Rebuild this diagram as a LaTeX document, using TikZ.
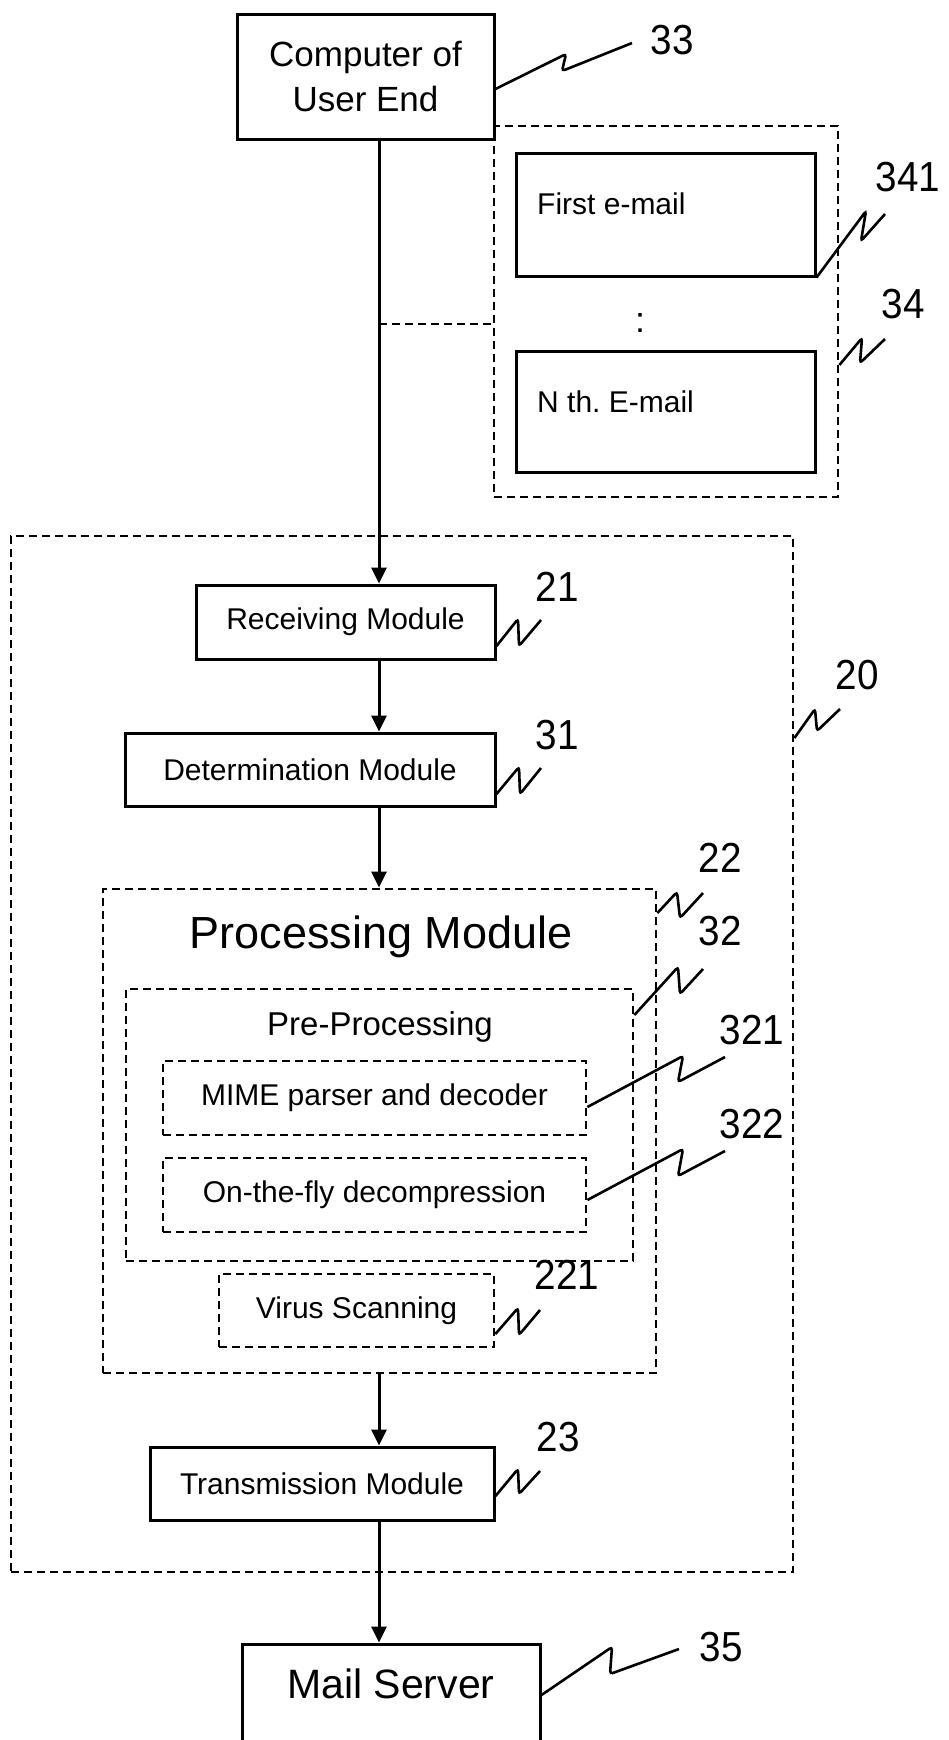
\documentclass[tikz,border=0pt]{standalone}
\usepackage{fontspec}
\setmainfont{Liberation Sans}
\usepackage{graphicx}
\usetikzlibrary{arrows.meta,calc}

% reference numerals are set slightly narrower than the body text
\newcommand{\rn}[1]{\scalebox{0.92}[1]{#1}}

\begin{document}
\begin{tikzpicture}[x=1pt,y=-1pt,
  box/.style={draw=black, line width=3pt, inner sep=0pt, align=center,
              font=\fontsize{30}{36}\selectfont},
  dbox/.style={box, line width=2.8pt, dash pattern=on 8pt off 5pt},
  dline/.style={line width=2.8pt, dash pattern=on 8pt off 5pt},
  flow/.style={line width=3pt, -{Triangle[width=15pt,length=16pt]}},
  leader/.style={line width=2.6pt, rounded corners=3pt},
  refnum/.style={inner sep=0pt, font=\fontsize{42}{42}\selectfont},
  plain/.style={inner sep=0pt, font=\fontsize{30}{36}\selectfont}
]
\useasboundingbox (0,0) rectangle (948,1740);
\fill[white] (0,0) rectangle (948,1740);
\clip (0,0) rectangle (948,1740);

% ---- user end and its e-mails ----
\node[box, minimum width=257pt, minimum height=125pt,
      font=\fontsize{35}{45}\selectfont] (comp) at (365.5,76.5) {Computer of\\User End};
\node[dbox, minimum width=344pt, minimum height=371pt] (grp34) at (666,311.5) {};
\node[box, minimum width=299pt, minimum height=123pt] (mailA) at (665.5,214.5) {};
\node[box, minimum width=299pt, minimum height=121pt] (mailN) at (665.5,411.5) {};
\node[plain, anchor=west] (txtA) at (537,204) {First e-mail};
\node[plain, anchor=west] (txtN) at (537,402) {N th.\ E-mail};
\node[plain, font=\fontsize{36}{40}\selectfont] (dots) at (640,323) {:};

% ---- gateway ----
\node[dbox, minimum width=782pt, minimum height=1036pt] (outer) at (402,1054) {};
\node[box, minimum width=299pt, minimum height=74pt] (recv) at (345.5,622) {Receiving Module};
\node[box, minimum width=370pt, minimum height=73pt] (det) at (310,769.5) {Determination Module};

\node[dbox, minimum width=553pt, minimum height=484pt] (proc) at (379.5,1131) {};
\node[plain, anchor=base, font=\fontsize{45}{50}\selectfont] (procT) at (381,948) {Processing Module};
\node[dbox, minimum width=507pt, minimum height=272pt] (pre) at (379.5,1125) {};
\node[plain, anchor=base, font=\fontsize{33}{40}\selectfont] (preT) at (380,1035) {Pre-Processing};
\node[dbox, minimum width=423pt, minimum height=74pt] (mime) at (374.5,1098) {MIME parser and decoder};
\node[dbox, minimum width=423pt, minimum height=74pt] (fly) at (374.5,1195) {On-the-fly decompression};
\node[dbox, minimum width=275pt, minimum height=73pt] (virus) at (356.5,1310.5) {Virus Scanning};

\node[box, minimum width=344pt, minimum height=73pt] (trans) at (322,1483.5) {Transmission Module};

% ---- mail server ----
\node[box, minimum width=298pt, minimum height=200pt] (server) at (391,1744) {};
\node[plain, anchor=base, font=\fontsize{41}{46}\selectfont] (serverT) at (391,1698) {Mail Server};

% ---- data path ----
\coordinate (spine) at (379,0);
\coordinate (tap) at (379,324);
\draw[flow] (comp.south -| spine) -- (recv.north -| spine);
\draw[flow] (recv.south -| spine) -- (det.north -| spine);
\draw[flow] (det.south -| spine) -- (proc.north -| spine);
\draw[flow] (proc.south -| spine) -- (trans.north -| spine);
\draw[flow] (trans.south -| spine) -- (server.north -| spine);
\draw[dline] (tap) -- (tap -| grp34.west);

% ---- reference numerals and their leaders ----
\node[refnum] (n33) at (672,40) {\rn{33}};
\draw[leader] (comp.east |- 0,89) -- (566,54) -- (562,71) -- (632,43);

\node[refnum] (n341) at (908,177) {\rn{341}};
\draw[leader] (mailA.south east) -- (866,211) -- (861,241) -- (885,214);

\node[refnum] (n34) at (903,304) {\rn{34}};
\draw[leader] (grp34.east |- 0,365) -- (862,338) -- (860,363) -- (885,339);

\node[refnum] (n21) at (557,587) {\rn{21}};
\draw[leader] (recv.east |- 0,646) -- (518,619) -- (519,646) -- (541,620);

\node[refnum] (n31) at (557,735) {\rn{31}};
\draw[leader] (det.east |- 0,794) -- (519,767) -- (520,794) -- (541,768);

\node[refnum] (n20) at (857,675) {\rn{20}};
\draw[leader] (outer.east |- 0,738) -- (815,709) -- (817,731) -- (840,709);

\node[refnum] (n22) at (720,858) {\rn{22}};
\draw[leader] (proc.east |- 0,913) -- (677,892) -- (680,918) -- (703,893);

\node[refnum] (n32) at (720,931) {\rn{32}};
\draw[leader] (pre.east |- 0,1015) -- (678,967) -- (680,994) -- (703,969);

\node[refnum] (n321) at (752,1030) {\rn{321}};
\draw[leader] (mime.east |- 0,1107) -- (683,1056) -- (678,1082) -- (725,1057);

\node[refnum] (n322) at (752,1124) {\rn{322}};
\draw[leader] (fly.east |- 0,1200) -- (683,1149) -- (678,1176) -- (725,1151);

\node[refnum] (n221) at (567,1275) {\rn{221}};
\draw[leader] (virus.east |- 0,1334) -- (518,1308) -- (519,1335) -- (540,1310);

\node[refnum] (n23) at (558,1437) {\rn{23}};
\draw[leader] (trans.east |- 0,1496) -- (518,1469) -- (519,1494) -- (540,1471);

\node[refnum] (n35) at (721,1647) {\rn{35}};
\draw[leader] (server.east |- 0,1695) -- (612,1647) -- (610,1674) -- (679,1649);
\end{tikzpicture}
\end{document}
